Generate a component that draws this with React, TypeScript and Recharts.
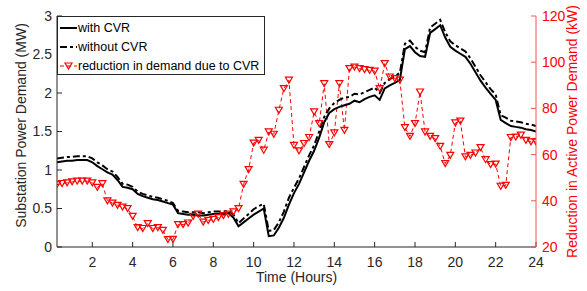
import React from "react";
import { LineChart, Line, XAxis, YAxis, Legend } from "recharts";

// 15-minute samples over the day
const HOURS = [
  0.25, 0.5, 0.75, 1, 1.25, 1.5, 1.75, 2, 2.25, 2.5, 2.75, 3, 3.25, 3.5, 3.75, 4,
  4.25, 4.5, 4.75, 5, 5.25, 5.5, 5.75, 6, 6.25, 6.5, 6.75, 7, 7.25, 7.5, 7.75, 8,
  8.25, 8.5, 8.75, 9, 9.25, 9.5, 9.75, 10, 10.25, 10.5, 10.75, 11, 11.25, 11.5, 11.75, 12,
  12.25, 12.5, 12.75, 13, 13.25, 13.5, 13.75, 14, 14.25, 14.5, 14.75, 15, 15.25, 15.5, 15.75, 16,
  16.25, 16.5, 16.75, 17, 17.25, 17.5, 17.75, 18, 18.25, 18.5, 18.75, 19, 19.25, 19.5, 19.75, 20,
  20.25, 20.5, 20.75, 21, 21.25, 21.5, 21.75, 22, 22.25, 22.5, 22.75, 23, 23.25, 23.5, 23.75, 24,
];

// MW
const WITH_CVR = [
  1.1, 1.11, 1.12, 1.12, 1.13, 1.13, 1.13, 1.1, 1.05, 1.01, 0.97, 0.94, 0.87, 0.78, 0.77, 0.75,
  0.69, 0.66, 0.64, 0.62, 0.61, 0.59, 0.57, 0.55, 0.44, 0.43, 0.42, 0.42, 0.41, 0.41, 0.42, 0.43,
  0.43, 0.43, 0.44, 0.38, 0.27, 0.32, 0.37, 0.42, 0.46, 0.5, 0.14, 0.15, 0.25, 0.38, 0.55, 0.7,
  0.82, 0.97, 1.12, 1.25, 1.42, 1.62, 1.74, 1.79, 1.82, 1.84, 1.86, 1.9, 1.88, 1.92, 1.95, 1.97,
  1.91, 2.06, 2.1, 2.13, 2.17, 2.57, 2.61, 2.53, 2.48, 2.47, 2.78, 2.83, 2.88, 2.72, 2.6, 2.55,
  2.51, 2.47, 2.38, 2.27, 2.16, 2.07, 1.99, 1.91, 1.65, 1.61, 1.57, 1.56, 1.55, 1.53, 1.52, 1.5,
];

const WITHOUT_CVR = [
  1.15, 1.16, 1.17, 1.17, 1.18, 1.18, 1.18, 1.15, 1.1, 1.06, 1.01, 0.98, 0.91, 0.82, 0.81, 0.78,
  0.72, 0.69, 0.67, 0.65, 0.64, 0.62, 0.6, 0.57, 0.47, 0.46, 0.45, 0.45, 0.45, 0.44, 0.45, 0.46,
  0.46, 0.46, 0.47, 0.42, 0.31, 0.37, 0.43, 0.49, 0.53, 0.56, 0.21, 0.22, 0.32, 0.46, 0.64, 0.77,
  0.89, 1.04, 1.19, 1.32, 1.5, 1.69, 1.8, 1.87, 1.91, 1.94, 1.95, 1.99, 1.98, 2.01, 2.04, 2.07,
  2.0, 2.13, 2.18, 2.22, 2.26, 2.64, 2.68, 2.6, 2.55, 2.53, 2.85, 2.9, 2.95, 2.79, 2.67, 2.62,
  2.58, 2.54, 2.45, 2.34, 2.23, 2.14, 2.05, 1.98, 1.71, 1.68, 1.64, 1.63, 1.62, 1.6, 1.59, 1.57,
];

// kW
const REDUCTION_KW = [
  47.0, 47.5, 47.8, 48.2, 48.5, 48.5, 48.5, 47.8, 45.8, 47.4, 40.0, 39.0, 38.0, 37.3, 36.6, 33.3,
  28.4, 28.0, 30.1, 28.0, 28.4, 27.2, 23.2, 23.3, 29.7, 29.7, 30.4, 33.3, 34.2, 30.8, 31.5, 32.0,
  32.7, 33.6, 34.2, 35.2, 36.6, 47.1, 53.5, 65.0, 66.2, 61.9, 69.8, 68.8, 79.2, 88.6, 92.2, 64.0,
  61.6, 64.8, 67.4, 78.5, 73.4, 90.7, 64.3, 69.4, 90.7, 70.5, 97.2, 97.9, 97.2, 96.8, 96.5, 96.1,
  88.6, 99.4, 93.6, 92.9, 92.2, 71.7, 67.9, 73.4, 87.1, 69.8, 67.9, 66.9, 63.6, 56.1, 59.7, 73.7,
  74.5, 59.0, 59.7, 60.7, 63.0, 57.8, 55.7, 55.9, 46.3, 46.7, 67.4, 67.6, 68.4, 66.2, 65.5, 65.5,
];

const X_TICKS = [2, 4, 6, 8, 10, 12, 14, 16, 18, 20, 22, 24];
const LEFT_TICKS = [0, 0.5, 1, 1.5, 2, 2.5, 3];
const RIGHT_TICKS = [20, 40, 60, 80, 100, 120];

const data = HOURS.map((t, i) => ({
  t,
  withCvr: WITH_CVR[i],
  withoutCvr: WITHOUT_CVR[i],
  reduction: REDUCTION_KW[i],
}));

const AXIS = "#262626";
const RED = "#ff0000";

function TriangleDot(props: any) {
  const { cx, cy } = props;
  if (cx == null || cy == null) return null;
  return (
    <path
      d={`M${cx - 3.5},${cy - 3} L${cx + 3.5},${cy - 3} L${cx},${cy + 3} Z`}
      fill="none"
      stroke={RED}
      strokeWidth={1.2}
    />
  );
}

function LegendBox() {
  const rows = [
    { label: "with CVR", dash: undefined, color: "#000", w: 2, marker: false },
    { label: "without CVR", dash: "7 3 3 3", color: "#000", w: 2, marker: false },
    { label: "reduction in demand due to CVR", dash: "4 3", color: RED, w: 1, marker: true },
  ];
  return (
    <svg width={208} height={59} style={{ display: "block" }}>
      <rect x={0.5} y={0.5} width={207} height={58} fill="#fff" stroke={AXIS} />
      {rows.map((r, i) => {
        const y = 12 + i * 19;
        return (
          <g key={r.label}>
            <line x1={3} x2={20} y1={y} y2={y} stroke={r.color} strokeWidth={r.w} strokeDasharray={r.dash} />
            {r.marker && (
              <path d={`M${8},${y - 3} L${15},${y - 3} L${11.5},${y + 3} Z`} fill="none" stroke={RED} strokeWidth={1.2} />
            )}
            <text x={21} y={y} dominantBaseline="central" fontSize={12.5} fill="#000">
              {r.label}
            </text>
          </g>
        );
      })}
    </svg>
  );
}

const leftLabel = (props: any) => {
  const vb = props.viewBox || { x: 0, y: 16, width: 57, height: 231 };
  const x = vb.x + 21;
  const y = vb.y + vb.height / 2 - 6;
  return (
    <text x={x} y={y} transform={`rotate(-90, ${x}, ${y})`} textAnchor="middle" dominantBaseline="central" fontSize={14} fill={AXIS}>
      Substation Power Demand (MW)
    </text>
  );
};

const rightLabel = (props: any) => {
  const vb = props.viewBox || { x: 536, y: 16, width: 51, height: 231 };
  const x = vb.x + 36;
  const y = vb.y + vb.height / 2;
  return (
    <text x={x} y={y} transform={`rotate(-90, ${x}, ${y})`} textAnchor="middle" dominantBaseline="central" fontSize={14} fill={RED}>
      Reduction in Active Power Demand (kW)
    </text>
  );
};

const bottomLabel = (props: any) => {
  const vb = props.viewBox || { x: 57, y: 247, width: 479, height: 44 };
  return (
    <text x={vb.x + vb.width / 2} y={vb.y + 30} textAnchor="middle" dominantBaseline="central" fontSize={14} fill={AXIS}>
      Time (Hours)
    </text>
  );
};

export default function App() {
  return (
    <div style={{ position: "absolute", left: 0, top: 0, fontFamily: "'Liberation Sans', Arial, sans-serif", background: "#fff" }}>
      <LineChart width={587} height={291} data={data} margin={{ top: 16, right: 0, bottom: 0, left: 0 }}>
        <XAxis
          dataKey="t"
          type="number"
          domain={[0.25, 24]}
          ticks={X_TICKS}
          allowDataOverflow
          height={44}
          stroke={AXIS}
          tickSize={-5}
          tickMargin={15}
          tick={{ fontSize: 14, fill: AXIS }}
          label={bottomLabel}
        />
        <XAxis
          xAxisId="top"
          dataKey="t"
          type="number"
          orientation="top"
          domain={[0.25, 24]}
          ticks={X_TICKS}
          allowDataOverflow
          height={0}
          stroke={AXIS}
          tickSize={-5}
          tickFormatter={() => ""}
        />
        <YAxis
          yAxisId="left"
          domain={[0, 3]}
          ticks={LEFT_TICKS}
          width={57}
          stroke={AXIS}
          tickSize={-5}
          tickMargin={10}
          tick={{ fontSize: 14, fill: AXIS }}
          label={leftLabel}
        />
        <YAxis
          yAxisId="right"
          orientation="right"
          domain={[20, 120]}
          ticks={RIGHT_TICKS}
          width={51}
          stroke="#ff5050"
          tickSize={-5}
          tickMargin={11}
          tick={{ fontSize: 14, fill: RED }}
          label={rightLabel}
        />
        <Legend
          layout="vertical"
          align="center"
          verticalAlign="middle"
          wrapperStyle={{ position: "absolute", left: 57, top: 16, width: 208, height: 59 }}
          content={() => <LegendBox />}
        />
        <Line
          yAxisId="right"
          dataKey="reduction"
          type="linear"
          stroke={RED}
          strokeWidth={1}
          strokeDasharray="4 3"
          dot={<TriangleDot />}
          isAnimationActive={false}
        />
        <Line
          yAxisId="left"
          dataKey="withoutCvr"
          type="linear"
          stroke="#000"
          strokeWidth={2}
          strokeDasharray="7 3 3 3"
          dot={false}
          isAnimationActive={false}
        />
        <Line
          yAxisId="left"
          dataKey="withCvr"
          type="linear"
          stroke="#000"
          strokeWidth={2}
          dot={false}
          isAnimationActive={false}
        />
      </LineChart>
    </div>
  );
}
